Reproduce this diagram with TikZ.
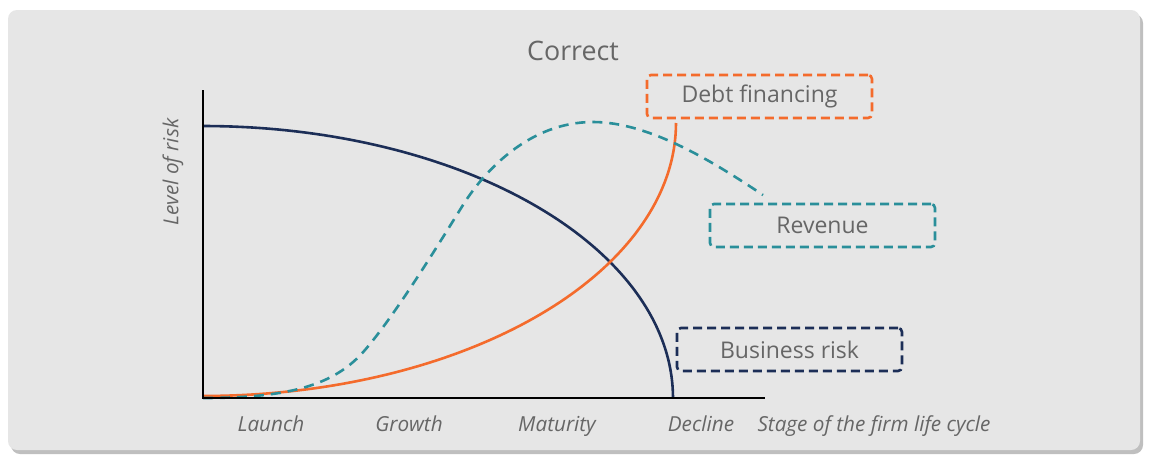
\documentclass[tikz,border=0pt]{standalone}
\usepackage{fontspec}
\setmainfont{Open Sans}
\usetikzlibrary{shadows}
\definecolor{panelbg}{HTML}{E6E6E6}
\definecolor{navy}{HTML}{1C2E57}
\definecolor{orng}{HTML}{F46B2C}
\definecolor{tealc}{HTML}{2A8F9A}
\definecolor{txtgray}{HTML}{666666}
\begin{document}
\begin{tikzpicture}[x=1pt,y=-1pt,
  legendbox/.style={draw, line width=2.6pt, dash pattern=on 9pt off 5pt,
    rounded corners=4pt, minimum width=225pt, minimum height=43pt,
    text=txtgray, font=\fontsize{23}{27}\selectfont, inner sep=0pt},
  axislabel/.style={text=txtgray, font=\itshape\fontsize{20.7}{24}\selectfont, anchor=base},
  curveline/.style={line width=2.6pt},
]
\useasboundingbox (0,0) rectangle (1156,463);
\fill[white] (0,0) rectangle (1156,463);
\path[fill=panelbg, rounded corners=9pt,
  drop shadow={shadow xshift=3pt, shadow yshift=-4pt, opacity=0.25, fill=black}]
  (8,10) rectangle (1140,450);

\node[text=txtgray, font=\fontsize{26.8}{31}\selectfont, anchor=base] (title) at (573,60) {Correct};

% curves
\draw[curveline, navy] plot[domain=0:90, samples=80, variable=\t]
  ({203+470*sin(\t)},{398-272*cos(\t)});
\draw[curveline, orng] plot[domain=0:90, samples=80, variable=\t]
  ({203+473*sin(\t)},{123+273*cos(\t)});
\draw[curveline, tealc, dash pattern=on 10pt off 7pt]
  (203,398) .. controls (290,398) and (335,385) .. (365,350)
  .. controls (395,315) and (435,250) .. (463,205)
  .. controls (485,170) and (530,122) .. (593,122)
  .. controls (650,122) and (715,163) .. (763,195);

% axes
\coordinate (ytop) at (203,90);
\coordinate (origin) at (203,398);
\coordinate (xend) at (765,398);
\draw[line width=2.6pt, black] (ytop) -- (origin) -- (xend);

% legend boxes
\node[legendbox, draw=orng] (debt) at (759.5,96.5) {Debt financing};
\node[legendbox, draw=tealc] (rev) at (822.5,225.5) {Revenue};
\node[legendbox, draw=navy] (risk) at (789.5,349.5) {Business risk};

% axis labels
\node[axislabel, rotate=90, anchor=center] (ylab) at (173,172) {Level of risk};
\node[axislabel] (launch) at (271,431) {Launch};
\node[axislabel] (growth) at (409,431) {Growth};
\node[axislabel] (maturity) at (557,431) {Maturity};
\node[axislabel] (decline) at (701,431) {Decline};
\node[axislabel] (stage) at (874,431) {Stage of the firm life cycle};
\end{tikzpicture}
\end{document}
